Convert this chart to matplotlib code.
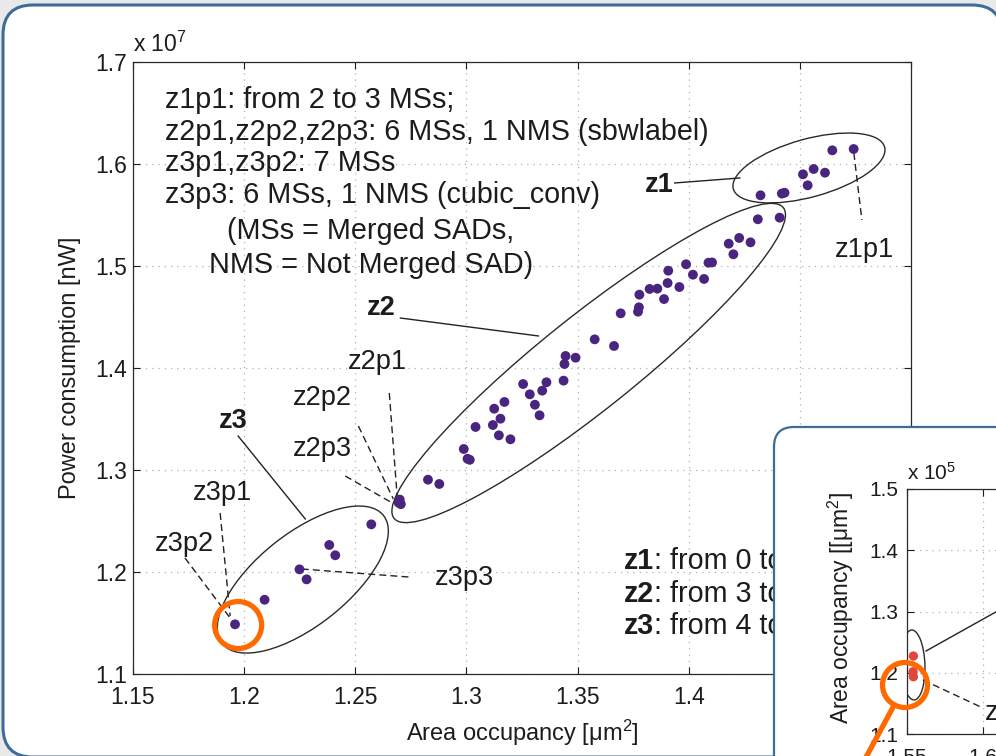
import matplotlib
matplotlib.use("Agg")
import matplotlib.pyplot as plt
from matplotlib import patches
from matplotlib import transforms as mtransforms
from matplotlib.lines import Line2D

plt.rcParams['font.family'] = ['Liberation Sans', 'DejaVu Sans']
plt.rcParams['mathtext.fontset'] = 'custom'
plt.rcParams['mathtext.rm'] = 'Liberation Sans'
plt.rcParams['mathtext.it'] = 'Liberation Sans:italic'
plt.rcParams['mathtext.bf'] = 'Liberation Sans:bold'

# ---------------------------------------------------------------- data
# Design points: area occupancy (um^2, x 1e5) vs power consumption (nW, x 1e7)
area_z3 = [1.1959, 1.2092, 1.2249, 1.2281, 1.2383, 1.2410, 1.2572]
power_z3 = [1.1487, 1.1728, 1.2026, 1.1928, 1.2265, 1.2164, 1.2467]

area_z2 = [1.2700, 1.2695, 1.2705, 1.2827, 1.2878, 1.2988, 1.3005, 1.3015,
           1.3041, 1.3119, 1.3125, 1.3153, 1.3171, 1.3146, 1.3198, 1.3255,
           1.3285, 1.3308, 1.3329, 1.3341, 1.3360, 1.3437, 1.3446, 1.3491,
           1.3441, 1.3577, 1.3664, 1.3694, 1.3772, 1.3776, 1.3778, 1.3824,
           1.3859, 1.3889, 1.3905, 1.3908, 1.3958, 1.3988, 1.4019, 1.4069,
           1.4089, 1.4105, 1.4180, 1.4227, 1.4278, 1.4201, 1.4311, 1.4409]
power_z2 = [1.2710, 1.2680, 1.2665, 1.2905, 1.2863, 1.3206, 1.3110, 1.3100,
            1.3422, 1.3441, 1.3601, 1.3503, 1.3667, 1.3340, 1.3301, 1.3843,
            1.3742, 1.3640, 1.3536, 1.3778, 1.3860, 1.3876, 1.4118, 1.4101,
            1.4039, 1.4281, 1.4216, 1.4536, 1.4552, 1.4595, 1.4719, 1.4775,
            1.4778, 1.4676, 1.4833, 1.4954, 1.4794, 1.5017, 1.4915, 1.4873,
            1.5032, 1.5035, 1.5219, 1.5275, 1.5232, 1.5115, 1.5458, 1.5474]

area_z1 = [1.4323, 1.4419, 1.4431, 1.4514, 1.4535, 1.4562, 1.4613, 1.4646, 1.4742]
power_z1 = [1.5693, 1.5710, 1.5718, 1.5899, 1.5791, 1.5951, 1.5915, 1.6134, 1.6147]

x_ticks = [1.15, 1.2, 1.25, 1.3, 1.35, 1.4, 1.45, 1.5]
x_tick_labels = ['1.15', '1.2', '1.25', '1.3', '1.35', '1.4', '1.45', '1.5']
y_ticks = [1.1, 1.2, 1.3, 1.4, 1.5, 1.6, 1.7]
y_tick_labels = ['1.1', '1.2', '1.3', '1.4', '1.5', '1.6', '1.7']

# Second view: area occupancy (x 1e5 um^2) of the selected designs
inset_x = [1.5542, 1.5540, 1.5542]
inset_y = [1.2273, 1.2017, 1.1935]
inset_x_ticks = [1.55, 1.6, 1.65, 1.7, 1.75]
inset_x_tick_labels = ['1.55', '1.6', '1.65', '1.7', '1.75']
inset_y_ticks = [1.1, 1.2, 1.3, 1.4, 1.5]
inset_y_tick_labels = ['1.1', '1.2', '1.3', '1.4', '1.5']

# ---------------------------------------------------------------- style
W, H = 996, 756
PANEL_BLUE = '#3d6c98'
DOT = '#4a2580'
RED = '#e2473b'
ORANGE = '#ff6a00'
INK = '#1c1c1c'
GRID = dict(color='#b0b0b0', linestyle=(0, (1, 4)), linewidth=0.9)
LBL = 19.5
NOTE = 20.7

fig = plt.figure(figsize=(W / 100, H / 100), dpi=100, facecolor='#e9e9e9')
pix = mtransforms.IdentityTransform()

# outer rounded card
fig.add_artist(patches.FancyBboxPatch(
    (3, -1), 999, 752, boxstyle='round,pad=0,rounding_size=30',
    transform=pix, facecolor='white', edgecolor=PANEL_BLUE, linewidth=2.2,
    zorder=-1))


def style_axes(a, tick_size, xpad, ypad):
    a.tick_params(direction='in', top=True, right=True, length=5, width=0.8,
                  labelsize=tick_size, colors=INK)
    a.tick_params(axis='x', pad=xpad)
    a.tick_params(axis='y', pad=ypad)
    for s in a.spines.values():
        s.set_color('#2a2a2a')
        s.set_linewidth(0.9)
    a.grid(True, **GRID)
    a.set_axisbelow(True)


# ---------------------------------------------------------------- main plot
ax = fig.add_axes([133 / W, 1 - 674 / H, 778 / W, 612 / H], zorder=0)
ax.set_facecolor('white')
ax.set_xlim(1.15, 1.5)
ax.set_ylim(1.1, 1.7)
ax.set_xticks(x_ticks)
ax.set_xticklabels(x_tick_labels)
ax.set_yticks(y_ticks)
ax.set_yticklabels(y_tick_labels)
style_axes(ax, 16.5, 9, 4)

for xs, ys in ((area_z3, power_z3), (area_z2, power_z2), (area_z1, power_z1)):
    ax.scatter(xs, ys, s=50, color=DOT, edgecolors='none', zorder=3)

ax.set_xlabel('Area occupancy [μm$^2$]', fontsize=17, color=INK, va='center')
ax.xaxis.set_label_coords(0.5, -0.0964)
ax.set_ylabel('Power consumption [nW]', fontsize=17, color=INK, va='center')
ax.yaxis.set_label_coords(-0.081, 0.5)
ax.text(0.0, 1.016, 'x 10$^{7}$', transform=ax.transAxes, fontsize=16.5,
        color=INK, ha='left', va='baseline')


def offset_trans(a, x, y):
    """Inch-based transform centred on a data point of axes a."""
    return fig.dpi_scale_trans + mtransforms.ScaledTranslation(x, y, a.transData)


# cluster ellipses (sizes in inches, angles in screen degrees)
for (cx, cy, w, h, ang) in ((1.4541, 1.5961, 1.57, 0.58, 15.5),
                            (1.3550, 1.4049, 4.98, 0.94, 38.6),
                            (1.2264, 1.1926, 2.06, 0.92, 38.5)):
    ax.add_patch(patches.Ellipse((0, 0), w, h, angle=ang, fill=False,
                                 edgecolor='#2a2a2a', linewidth=1.0,
                                 transform=offset_trans(ax, cx, cy), zorder=2))


def leader(a, x0, y0, x1, y1, dashed=False):
    a.plot([x0, x1], [y0, y1], color='#222222', linewidth=1.0,
           linestyle=(0, (5, 3)) if dashed else '-', clip_on=False, zorder=2)


# zone labels
ax.text(1.3932, 1.5794, 'z1', fontsize=LBL, fontweight='bold', color=INK,
        ha='right', va='center')
leader(ax, 1.3937, 1.5814, 1.4230, 1.5863)
ax.text(1.2680, 1.4588, 'z2', fontsize=LBL, fontweight='bold', color=INK,
        ha='right', va='center')
leader(ax, 1.2703, 1.4490, 1.3324, 1.4314)
ax.text(1.1950, 1.3480, 'z3', fontsize=LBL, fontweight='bold', color=INK,
        ha='center', va='center')
leader(ax, 1.1973, 1.3333, 1.2275, 1.2520)

# point labels
ax.text(1.4658, 1.5157, 'z1p1', fontsize=LBL, color=INK, ha='left', va='center')
leader(ax, 1.4743, 1.6108, 1.4779, 1.5451, dashed=True)
ax.text(1.2601, 1.4059, 'z2p1', fontsize=LBL, color=INK, ha='center', va='center')
leader(ax, 1.2653, 1.3755, 1.2689, 1.2725, dashed=True)
ax.text(1.2221, 1.3706, 'z2p2', fontsize=LBL, color=INK, ha='left', va='center')
leader(ax, 1.2514, 1.3431, 1.2671, 1.2716, dashed=True)
ax.text(1.2221, 1.3206, 'z2p3', fontsize=LBL, color=INK, ha='left', va='center')
leader(ax, 1.2455, 1.2941, 1.2667, 1.2676, dashed=True)
ax.text(1.1901, 1.2775, 'z3p1', fontsize=LBL, color=INK, ha='center', va='center')
leader(ax, 1.1892, 1.2578, 1.1937, 1.1569, dashed=True)
ax.text(1.1732, 1.2275, 'z3p2', fontsize=LBL, color=INK, ha='center', va='center')
leader(ax, 1.1734, 1.2137, 1.1937, 1.1549, dashed=True)
ax.text(1.2860, 1.1941, 'z3p3', fontsize=LBL, color=INK, ha='left', va='center')
leader(ax, 1.2739, 1.1951, 1.2261, 1.2029, dashed=True)

# notes
notes = ['z1p1: from 2 to 3 MSs;',
         'z2p1,z2p2,z2p3: 6 MSs, 1 NMS (sbwlabel)',
         'z3p1,z3p2: 7 MSs',
         'z3p3: 6 MSs, 1 NMS (cubic_conv)']
for txt, yy in zip(notes, (1.6627, 1.6314, 1.6010, 1.5696)):
    ax.text(1.1644, yy, txt, fontsize=NOTE, color=INK, ha='left', va='center')
ax.text(1.2570, 1.5343, '(MSs = Merged SADs,', fontsize=NOTE, color=INK,
        ha='center', va='center')
ax.text(1.2570, 1.5010, 'NMS = Not Merged SAD)', fontsize=NOTE, color=INK,
        ha='center', va='center')

for zname, rest, yy in (('z1', ': from 0 to', 1.2108),
                        ('z2', ': from 3 to', 1.1784),
                        ('z3', ': from 4 to', 1.1471)):
    t = ax.text(1.3707, yy, zname, fontsize=NOTE, fontweight='bold', color=INK,
                ha='left', va='center')
    ax.annotate(rest, xy=(1, 0.5), xycoords=t, fontsize=NOTE, color=INK,
                ha='left', va='center')

# ---------------------------------------------------------------- second card
fig.add_artist(patches.FancyBboxPatch(
    (774, -60), 400, 389, boxstyle='round,pad=0,rounding_size=20',
    transform=pix, facecolor='white', edgecolor=PANEL_BLUE, linewidth=1.6,
    zorder=1.5))

axi = fig.add_axes([907 / W, 1 - 734 / H, 304 / W, 245 / H], zorder=2)
axi.set_facecolor('white')
axi.set_xlim(1.55, 1.75)
axi.set_ylim(1.1, 1.5)
axi.set_xticks(inset_x_ticks)
axi.set_xticklabels(inset_x_tick_labels)
axi.set_yticks(inset_y_ticks)
axi.set_yticklabels(inset_y_tick_labels)
style_axes(axi, 15, 10, 6)
axi.scatter(inset_x, inset_y, s=45, color=RED, edgecolors='none', zorder=3)
axi.set_ylabel('Area occupancy [[μm$^2$]', fontsize=16.5, color=INK, va='center')
axi.yaxis.set_label_coords(-0.217, 0.514)
axi.text(0.0, 1.037, 'x 10$^{5}$', transform=axi.transAxes, fontsize=15,
         color=INK, ha='left', va='baseline')
axi.add_patch(patches.Ellipse((0, 0), 0.24, 0.70, angle=2, fill=False,
                              edgecolor='#2a2a2a', linewidth=1.0,
                              transform=offset_trans(axi, 1.5539, 1.2127),
                              zorder=2))
leader(axi, 1.5625, 1.2355, 1.6178, 1.3122)
leader(axi, 1.5605, 1.1882, 1.6000, 1.1424, dashed=True)
axi.text(1.6013, 1.1343, 'z1p1', fontsize=LBL, color=INK, ha='left', va='center')

# ---------------------------------------------------------------- highlight
fig.add_artist(patches.Circle((0, 0), 0.235, fill=False, edgecolor=ORANGE,
                              linewidth=3.8,
                              transform=offset_trans(ax, 1.1973, 1.1480),
                              zorder=3))
fig.add_artist(patches.Circle((0, 0), 0.225, fill=False, edgecolor=ORANGE,
                              linewidth=3.8,
                              transform=offset_trans(axi, 1.5487, 1.1800),
                              zorder=3))
fig.add_artist(Line2D([-0.475 * 0.225, -0.475 * 1.1], [-0.88 * 0.225, -0.88 * 1.1],
                      color=ORANGE, linewidth=3.8, solid_capstyle='butt',
                      transform=offset_trans(axi, 1.5487, 1.1800), zorder=3))

fig.savefig('out.png', dpi=100, facecolor=fig.get_facecolor())
